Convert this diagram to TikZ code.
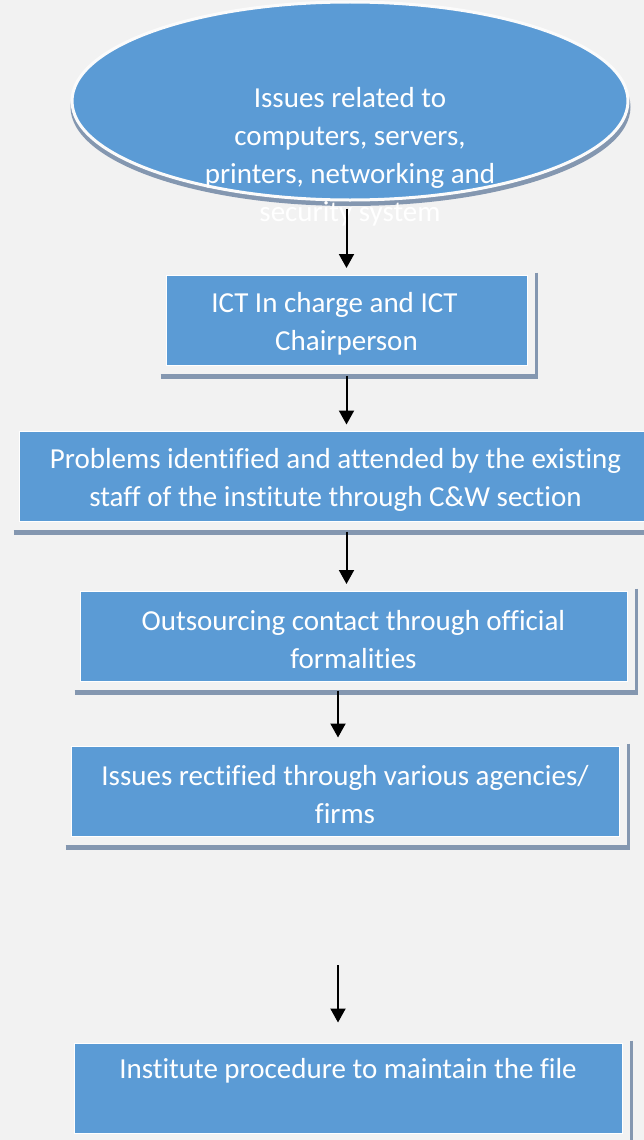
\documentclass[tikz,border=0pt]{standalone}
\usepackage{fontspec}
\setmainfont{Carlito}[Ligatures=NoCommon]
\usetikzlibrary{arrows.meta,calc,shapes.geometric}
\definecolor{officeblue}{HTML}{5B9BD5}
\definecolor{shadowgrey}{HTML}{8497B0}
\definecolor{pagegrey}{HTML}{F2F2F2}
\def\boxshadow(#1){%
	\draw[shadowgrey, line width=2.5pt] ([xshift=9pt,yshift=2pt]#1.north east) -- ([xshift=9pt,yshift=-13pt]#1.south east);
	\draw[shadowgrey, line width=5pt] ([xshift=-5pt,yshift=-11pt]#1.south west) -- ([xshift=10.25pt,yshift=-11pt]#1.south east);}
\tikzset{
	stepbox/.style={rectangle, fill=officeblue, draw=white, line width=1pt, text=white, inner sep=0pt, align=center, font=\fontsize{29}{38}\selectfont, text height=65pt, minimum height=90pt},
	flowarrow/.style={line width=2pt, -{Triangle[width=15pt,length=14pt]}},
}

\begin{document}
\begin{tikzpicture}[x=1pt, y=-1pt]
			%%%%% START %%%%%
			
			\fill[pagegrey] (0, 0) rectangle (644, 1140);
			\useasboundingbox (0, 0) rectangle (644, 1140);
			
			\node[ellipse, fill=shadowgrey, minimum width=560pt, minimum height=198pt, inner sep=0pt] (issuesshadow) at (350.5, 107) {};
			\node[ellipse, fill=officeblue, draw=white!70!pagegrey, line width=3pt, minimum width=556pt, minimum height=198pt, inner sep=0pt] (issues) at (350, 101) {};
			\node[text=white, align=center, inner sep=0pt, font=\fontsize{29}{38}\selectfont] (issuestext) at (350, 157) {Issues related to\\computers, servers,\\printers, networking and\\security system};
			
			\node[stepbox, minimum width=361pt] (ictcharge) at (346.5, 320) {ICT In charge and ICT\kern24pt\\Chairperson};
			\node[stepbox, minimum width=633pt] (problems) at (335.5, 476) {Problems identified and attended by the existing\\staff of the institute through C\&W section};
			\node[stepbox, minimum width=547pt] (outsourcing) at (353.5, 636) {Outsourcing contact through official\\formalities};
			\node[stepbox, minimum width=548pt] (rectified) at (345, 791) {Issues rectified through various agencies/\\firms};
			\node[stepbox, minimum width=548pt, text height=57pt] (procedure) at (348, 1088) {Institute procedure to maintain the file\\~};
			
			\boxshadow(ictcharge)
			\boxshadow(problems)
			\boxshadow(outsourcing)
			\boxshadow(rectified)
			\boxshadow(procedure)
			
			\coordinate (gapstart) at (338, 965);
			
			\draw[flowarrow, shorten <=7pt, shorten >=6.5pt] (issues.south -| ictcharge.north) -- (ictcharge.north);
			\draw[flowarrow, shorten <=10pt, shorten >=6pt] (ictcharge.south) -- (ictcharge.south |- problems.north);
			\draw[flowarrow, shorten <=10pt, shorten >=6.5pt] (problems.south -| ictcharge.south) -- (outsourcing.north -| ictcharge.south);
			\draw[flowarrow, shorten <=9pt, shorten >=8pt] ([xshift=-15.5pt]outsourcing.south) -- ([xshift=-15.5pt]outsourcing.south |- rectified.north);
			\draw[flowarrow, shorten >=20pt] (gapstart) -- (gapstart |- procedure.north);
			
			%%%%% END %%%%%
\end{tikzpicture}
\end{document}
